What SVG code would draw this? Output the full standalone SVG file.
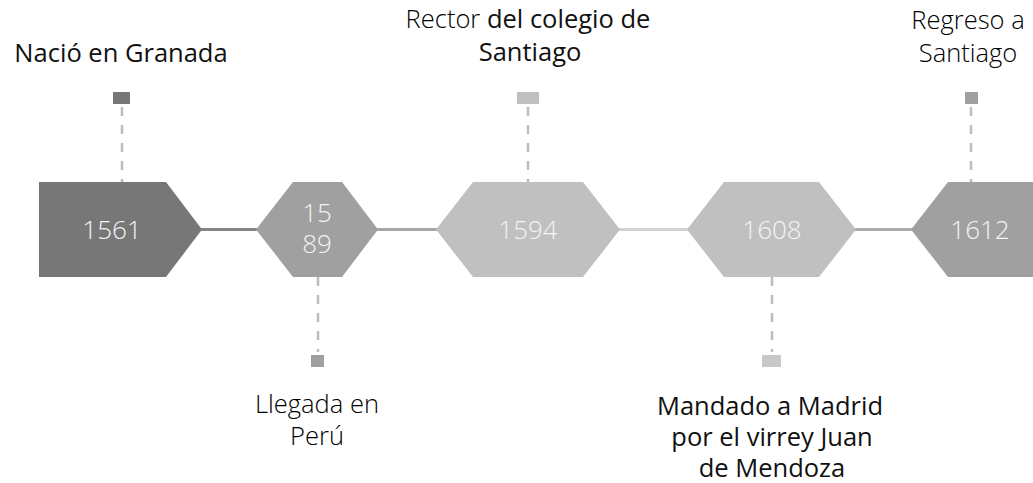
<svg xmlns="http://www.w3.org/2000/svg" width="1033" height="483" viewBox="0 0 1033 483">
  <style>
    .lbl { font-family: "Open Sans", "Liberation Sans", sans-serif; font-size: 25.5px; font-weight: 400; fill: #111; text-anchor: middle; }
    .light { font-weight: 300; fill: #000; }
    .yr { font-family: "Open Sans", "Liberation Sans", sans-serif; font-size: 26px; font-weight: 300; fill: #f4f4f4; text-anchor: middle; }
    .dash { stroke: #bdbdbd; stroke-width: 2.5; stroke-dasharray: 9 9; fill: none; }
    .conn { stroke-width: 3; fill: none; }
  </style>
  <rect width="1033" height="483" fill="#ffffff"/>

  <g id="connectors">
    <line class="conn" x1="200" y1="229.5" x2="258" y2="229.5" stroke="#858585"/>
    <line class="conn" x1="376" y1="229.5" x2="438" y2="229.5" stroke="#a8a8a8"/>
    <line class="conn" x1="618" y1="229.5" x2="689" y2="229.5" stroke="#d2d2d2"/>
    <line class="conn" x1="854" y1="229.5" x2="913" y2="229.5" stroke="#acacac"/>
    <line class="dash" x1="122" y1="107" x2="122" y2="182"/>
    <line class="dash" x1="528" y1="107" x2="528" y2="182"/>
    <line class="dash" x1="971" y1="107" x2="971" y2="182"/>
    <line class="dash" x1="318" y1="277" x2="318" y2="352"/>
    <line class="dash" x1="772" y1="277" x2="772" y2="352"/>
  </g>

  <g id="node-1561">
    <polygon points="39,182 166,182 202,229.5 166,277 39,277" fill="#777777"/>
    <text class="yr" x="112" y="239">1561</text>
    <rect x="113" y="92" width="17" height="12" fill="#777777"/>
    <text class="lbl" x="121" y="62">Nació en Granada</text>
  </g>

  <g id="node-1589">
    <polygon points="256,229.5 293,182 342,182 378,229.5 342,277 293,277" fill="#a0a0a0"/>
    <text class="yr" x="317" y="222">15</text>
    <text class="yr" x="317" y="253">89</text>
    <rect x="311" y="355" width="13" height="12" fill="#a0a0a0"/>
    <text class="lbl light" x="317" y="413">Llegada en</text>
    <text class="lbl light" x="317" y="445">Perú</text>
  </g>

  <g id="node-1594">
    <polygon points="436,229.5 473,182 583,182 620,229.5 583,277 473,277" fill="#c0c0c0"/>
    <text class="yr" x="528" y="239">1594</text>
    <rect x="517" y="92" width="22" height="12" fill="#c0c0c0"/>
    <text class="lbl" x="528" y="28"><tspan class="light">Rector</tspan> del colegio de</text>
    <text class="lbl" x="530" y="61">Santiago</text>
  </g>

  <g id="node-1608">
    <polygon points="687,229.5 724,182 819,182 856,229.5 819,277 724,277" fill="#c0c0c0"/>
    <text class="yr" x="772" y="239">1608</text>
    <rect x="762" y="355" width="19" height="12" fill="#c8c8c8"/>
    <text class="lbl" x="770" y="415">Mandado a Madrid</text>
    <text class="lbl" x="772" y="446">por el virrey Juan</text>
    <text class="lbl" x="772" y="477">de Mendoza</text>
  </g>

  <g id="node-1612">
    <polygon points="911,229.5 948,182 1040,182 1040,277 948,277" fill="#a0a0a0"/>
    <text class="yr" x="980" y="239">1612</text>
    <rect x="965" y="92" width="13" height="12" fill="#a0a0a0"/>
    <text class="lbl light" x="968" y="29">Regreso a</text>
    <text class="lbl light" x="968" y="62">Santiago</text>
  </g>
</svg>
